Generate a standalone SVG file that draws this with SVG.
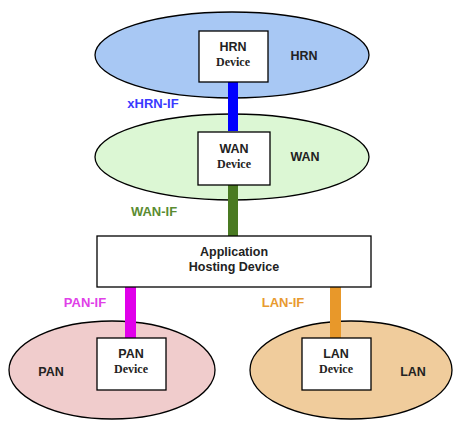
<svg xmlns="http://www.w3.org/2000/svg" width="453" height="421" viewBox="0 0 453 421">
<style>
.net{stroke:#000;stroke-width:1.3}
.box{fill:#fff;stroke:#000;stroke-width:1.3}
.s{font-family:"Liberation Sans",Arial,sans-serif;font-weight:bold;font-size:12.5px;fill:#222;text-anchor:middle}
.d{font-family:"Liberation Serif","Times New Roman",serif;font-weight:bold;font-size:12px;fill:#222;text-anchor:middle}
.if{font-family:"Liberation Sans",Arial,sans-serif;font-weight:bold;font-size:13px;text-anchor:middle}
</style>
<rect width="453" height="421" fill="#fff"/>
<g id="hrn-net"><ellipse class="net" cx="232" cy="55" rx="137" ry="43" fill="#a8c8f4"/><text class="s" x="304" y="60">HRN</text></g>
<g id="wan-net"><ellipse class="net" cx="232" cy="157" rx="137" ry="43" fill="#dcf7d4"/><text class="s" x="305" y="161">WAN</text></g>
<g id="pan-net"><ellipse class="net" cx="112" cy="370" rx="103" ry="49" fill="#f0cccc"/><text class="s" x="51" y="376">PAN</text></g>
<g id="lan-net"><ellipse class="net" cx="351" cy="370" rx="101" ry="49" fill="#f0cc9c"/><text class="s" x="413" y="376">LAN</text></g>
<g id="connectors">
<rect x="228" y="82" width="10" height="49" fill="#0000ff"/>
<rect x="228" y="185" width="10" height="51" fill="#4a7a22"/>
<rect x="125" y="287" width="11" height="51" fill="#e000ea"/>
<rect x="330" y="287" width="11" height="51" fill="#e8982a"/>
<text class="if" x="153" y="108" fill="#3a3aff">xHRN-IF</text>
<text class="if" x="154" y="216" fill="#5a8c32">WAN-IF</text>
<text class="if" x="85" y="307" fill="#e040e8">PAN-IF</text>
<text class="if" x="283" y="307" fill="#e89a30">LAN-IF</text>
</g>
<g id="hrn-device"><rect class="box" x="199" y="31" width="69" height="51"/><text class="s" x="233" y="51">HRN</text><text class="d" x="233" y="66">Device</text></g>
<g id="wan-device"><rect class="box" x="198" y="132" width="72" height="53"/><text class="s" x="234" y="153">WAN</text><text class="d" x="234" y="168">Device</text></g>
<g id="app-device"><rect class="box" x="97" y="236" width="274" height="51"/><text class="s" x="234" y="256">Application</text><text class="s" x="234" y="271">Hosting Device</text></g>
<g id="pan-device"><rect class="box" x="97" y="338" width="69" height="52"/><text class="s" x="131" y="358">PAN</text><text class="d" x="131" y="373">Device</text></g>
<g id="lan-device"><rect class="box" x="302" y="338" width="69" height="52"/><text class="s" x="336" y="358">LAN</text><text class="d" x="336" y="373">Device</text></g>
</svg>
